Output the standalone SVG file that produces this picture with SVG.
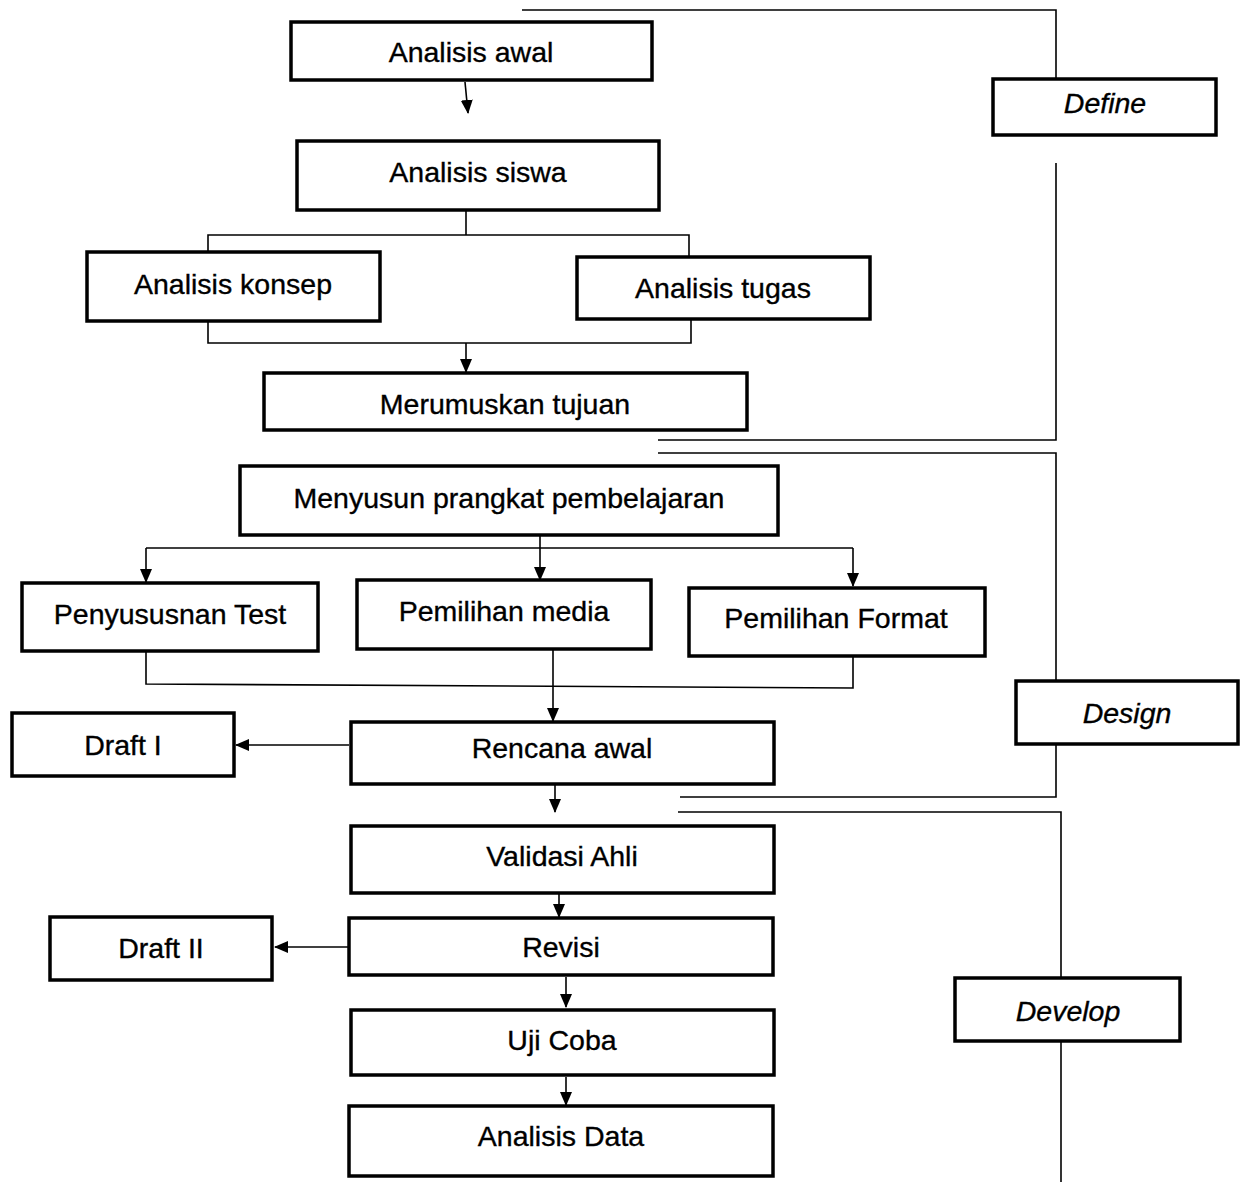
<svg xmlns="http://www.w3.org/2000/svg" width="1248" height="1182" viewBox="0 0 1248 1182">
<style>
.box{fill:#fff;stroke:#000;stroke-width:3.5}
.t{font-family:"Liberation Sans",Arial,sans-serif;font-size:28.5px;fill:#000;stroke:#000;stroke-width:0.35;text-anchor:middle}
.i{font-style:italic}
.c{fill:none;stroke:#000;stroke-width:1.6}
</style>
<defs>
<marker id="ah" markerWidth="14" markerHeight="12" refX="13" refY="6" orient="auto" markerUnits="userSpaceOnUse">
<path d="M0,0 L14,6 L0,12 z" fill="#000"/>
</marker>
</defs>
<rect width="1248" height="1182" fill="#fff"/>
<g id="connectors">
<line class="c" x1="465" y1="82" x2="468" y2="113" marker-end="url(#ah)"/>
<polyline class="c" points="466,210 466,235"/>
<polyline class="c" points="208,252 208,235 689,235 689,257"/>
<polyline class="c" points="208,321 208,343 691,343 691,319"/>
<line class="c" x1="466" y1="343" x2="466" y2="372" marker-end="url(#ah)"/>
<polyline class="c" points="522,10 1056,10 1056,79"/>
<polyline class="c" points="1056,163 1056,440 658,440"/>
<polyline class="c" points="658,453 1056,453 1056,681"/>
<polyline class="c" points="1056,744 1056,797 680,797"/>
<polyline class="c" points="678,812 1061,812 1061,977"/>
<line class="c" x1="1061" y1="1041" x2="1061" y2="1182"/>
<line class="c" x1="540" y1="535" x2="540" y2="548"/>
<polyline class="c" points="146,548 853,548"/>
<line class="c" x1="146" y1="548" x2="146" y2="582" marker-end="url(#ah)"/>
<line class="c" x1="540" y1="548" x2="540" y2="580" marker-end="url(#ah)"/>
<line class="c" x1="853" y1="548" x2="853" y2="586" marker-end="url(#ah)"/>
<polyline class="c" points="146,651 146,684 853,688 853,656"/>
<line class="c" x1="553" y1="649" x2="553" y2="721" marker-end="url(#ah)"/>
<line class="c" x1="349" y1="745" x2="236" y2="745" marker-end="url(#ah)"/>
<line class="c" x1="555" y1="785" x2="555" y2="812" marker-end="url(#ah)"/>
<line class="c" x1="559" y1="893" x2="559" y2="917" marker-end="url(#ah)"/>
<line class="c" x1="348" y1="947" x2="275" y2="947" marker-end="url(#ah)"/>
<line class="c" x1="566" y1="977" x2="566" y2="1007" marker-end="url(#ah)"/>
<line class="c" x1="566" y1="1077" x2="566" y2="1105" marker-end="url(#ah)"/>
</g>
<g id="n-analisis-awal"><rect class="box" x="291" y="22" width="361" height="58"/><text class="t" x="471" y="62">Analisis awal</text></g>
<g id="n-analisis-siswa"><rect class="box" x="297" y="141" width="362" height="69"/><text class="t" x="478" y="182">Analisis siswa</text></g>
<g id="n-analisis-konsep"><rect class="box" x="87" y="252" width="293" height="69"/><text class="t" x="233" y="294">Analisis konsep</text></g>
<g id="n-analisis-tugas"><rect class="box" x="577" y="257" width="293" height="62"/><text class="t" x="723" y="298">Analisis tugas</text></g>
<g id="n-merumuskan"><rect class="box" x="264" y="373" width="483" height="57"/><text class="t" x="505" y="414">Merumuskan tujuan</text></g>
<g id="n-define"><rect class="box" x="993" y="79" width="223" height="56"/><text class="t i" x="1105" y="113">Define</text></g>
<g id="n-menyusun"><rect class="box" x="240" y="466" width="538" height="69"/><text class="t" x="509" y="508">Menyusun prangkat pembelajaran</text></g>
<g id="n-penyusunan"><rect class="box" x="22" y="583" width="296" height="68"/><text class="t" x="170" y="624">Penyususnan Test</text></g>
<g id="n-media"><rect class="box" x="357" y="580" width="294" height="69"/><text class="t" x="504" y="621">Pemilihan media</text></g>
<g id="n-format"><rect class="box" x="689" y="588" width="296" height="68"/><text class="t" x="836" y="628">Pemilihan Format</text></g>
<g id="n-design"><rect class="box" x="1016" y="681" width="222" height="63"/><text class="t i" x="1127" y="723">Design</text></g>
<g id="n-draft1"><rect class="box" x="12" y="713" width="222" height="63"/><text class="t" x="123" y="755">Draft I</text></g>
<g id="n-rencana"><rect class="box" x="351" y="722" width="423" height="62"/><text class="t" x="562" y="758">Rencana awal</text></g>
<g id="n-validasi"><rect class="box" x="351" y="826" width="423" height="67"/><text class="t" x="562" y="866">Validasi Ahli</text></g>
<g id="n-revisi"><rect class="box" x="349" y="918" width="424" height="57"/><text class="t" x="561" y="957">Revisi</text></g>
<g id="n-draft2"><rect class="box" x="50" y="917" width="222" height="63"/><text class="t" x="161" y="958">Draft II</text></g>
<g id="n-develop"><rect class="box" x="955" y="978" width="225" height="63"/><text class="t i" x="1068" y="1021">Develop</text></g>
<g id="n-uji"><rect class="box" x="351" y="1010" width="423" height="65"/><text class="t" x="562" y="1050">Uji Coba</text></g>
<g id="n-data"><rect class="box" x="349" y="1106" width="424" height="70"/><text class="t" x="561" y="1146">Analisis Data</text></g>
</svg>
